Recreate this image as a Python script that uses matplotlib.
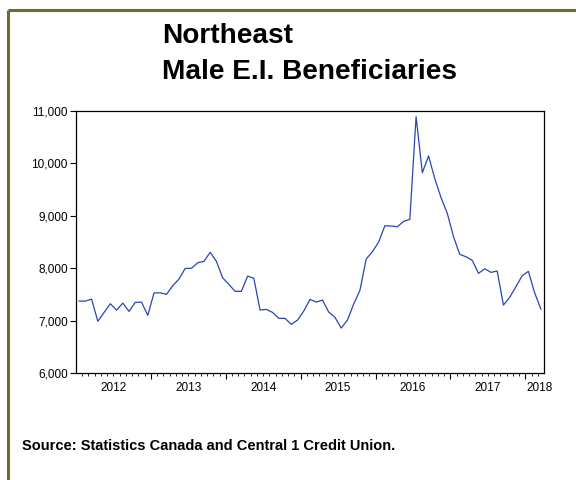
import matplotlib.pyplot as plt
from matplotlib.lines import Line2D
from matplotlib.ticker import FuncFormatter, FixedLocator, MultipleLocator

plt.rcParams["font.family"] = ["Liberation Sans", "DejaVu Sans"]

# monthly male E.I. beneficiaries, Jan 2012 - Mar 2018
years = ["2012", "2013", "2014", "2015", "2016", "2017", "2018"]
values = [
    7375, 7375, 7413, 6989, 7160, 7324, 7204, 7337, 7179, 7350, 7356, 7103,   # 2012
    7528, 7533, 7503, 7667, 7794, 7998, 7998, 8105, 8131, 8303, 8131, 7819,   # 2013
    7693, 7560, 7560, 7850, 7808, 7204, 7217, 7160, 7046, 7046, 6931, 7013,   # 2014
    7185, 7408, 7356, 7394, 7166, 7065, 6861, 7013, 7318, 7579, 8175, 8314,   # 2015
    8499, 8810, 8804, 8790, 8893, 8931, 10886, 9819, 10137, 9705, 9345, 9046,  # 2016
    8600, 8265, 8219, 8150, 7903, 7990, 7922, 7947, 7299, 7446, 7648, 7857,   # 2017
    7941, 7533, 7223,                                                         # 2018
]

LINE_C = "#2a45b5"
BORDER_C = "#6e6b2e"

fig = plt.figure(figsize=(5.76, 4.8), dpi=100)
ax = fig.add_axes([76 / 576, 1 - 373.3 / 480, 468 / 576, 262.6 / 480])

months = list(range(len(values)))
ax.plot(months, values, color=LINE_C, linewidth=0.9)

ax.set_xlim(-0.5, len(values) - 0.5)
ax.set_ylim(6000, 11000)
ax.yaxis.set_major_locator(MultipleLocator(1000))
ax.yaxis.set_major_formatter(FuncFormatter(lambda v, _: f"{v:,.0f}"))

# year boundaries as major ticks, months as minor ticks, labels centred in each year
year_edges = [11.5 + 12 * k for k in range(6)]
ax.xaxis.set_major_locator(FixedLocator(year_edges))
ax.xaxis.set_minor_locator(FixedLocator([m + 0.5 for m in months[:-1]]))
ax.set_xticklabels([])
label_pos = [5.5 + 12 * k for k in range(6)] + [73.8]
for pos, lab in zip(label_pos, years):
    ax.text(pos, -0.035, lab, transform=ax.get_xaxis_transform(), ha="center", va="top", fontsize=8.5)

for side in ["top", "right", "left", "bottom"]:
    ax.spines[side].set_linewidth(0.9)
ax.tick_params(axis="y", direction="out", length=4, width=0.8, labelsize=8.5, pad=2)
ax.tick_params(axis="x", which="major", direction="out", length=4, width=0.8)
ax.tick_params(axis="x", which="minor", direction="out", length=2, width=0.6)

fig.text(162 / 576, 1 - 23 / 480, "Northeast", fontsize=20.2, fontweight="bold", va="top", ha="left")
fig.text(162 / 576, 1 - 59 / 480, "Male E.I. Beneficiaries", fontsize=20.2, fontweight="bold", va="top", ha="left")
fig.text(22 / 576, 1 - 446 / 480, "Source: Statistics Canada and Central 1 Credit Union.",
         fontsize=10.5, fontweight="bold", va="center", ha="left")

# olive frame on top and left edges
fig.add_artist(Line2D([7.5 / 576, 1], [1 - 10 / 480, 1 - 10 / 480], transform=fig.transFigure,
                      color=BORDER_C, linewidth=2.2, solid_capstyle="butt"))
fig.add_artist(Line2D([7.5 / 576, 7.5 / 576], [0, 1 - 10 / 480], transform=fig.transFigure,
                      color=BORDER_C, linewidth=2.2, solid_capstyle="butt"))

fig.savefig("out.png", dpi=100)
